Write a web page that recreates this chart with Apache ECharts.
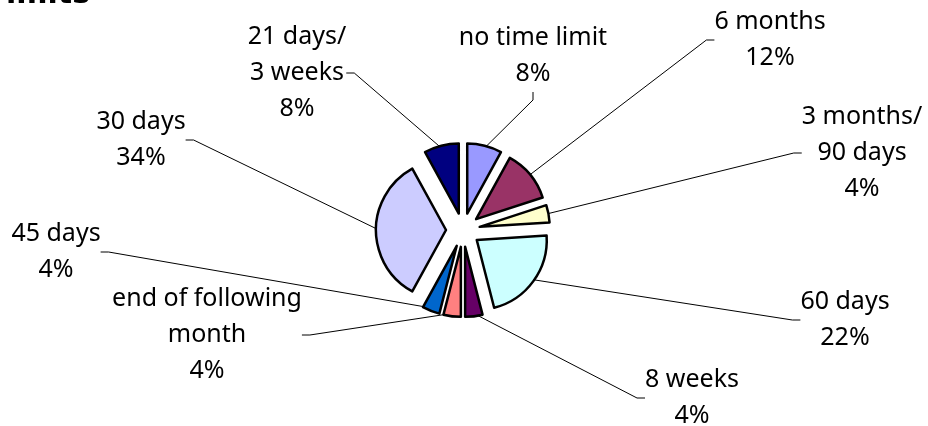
<!DOCTYPE html>
<html>
<head>
<meta charset="utf-8">
<script src="https://cdn.jsdelivr.net/npm/echarts@6/dist/echarts.min.js"></script>
<style>
html,body{margin:0;padding:0;background:#fff;}
#main{width:928px;height:426px;}
</style>
</head>
<body>
<div id="main"></div>
<script>
// ---- data ----
var categories = ["no time limit", "6 months", "3 months/\n90 days", "60 days", "8 weeks",
  "end of following\nmonth", "45 days", "30 days", "21 days/\n3 weeks"];
var counts = [4, 6, 2, 11, 2, 2, 2, 17, 4];
var colors = ["#9999FF", "#993366", "#FFFFCC", "#CCFFFF", "#660066",
  "#FF8080", "#0066CC", "#CCCCFF", "#000080"];
var titleText = "imits";

// ---- layout (label anchor centres) ----
var labelPos = [
  [533, 56], [770, 40], [862, 153], [845, 320], [692, 398],
  [207, 335], [56, 252], [141, 140], [297, 73]
];

var chart = echarts.init(document.getElementById('main'), null, {renderer: 'canvas'});
var slices = categories.map(function (c, i) {
  return {name: c, value: counts[i], selected: true, itemStyle: {color: colors[i]}};
});
var ghost = categories.map(function (c, i) {
  return {name: c, value: counts[i]};
});
chart.setOption({
  animation: false,
  backgroundColor: '#ffffff',
  graphic: [{
    type: 'text', x: 6, y: 10, silent: true,
    style: {text: titleText, font: 'bold 30px "DejaVu Sans"', fill: '#000', verticalAlign: 'bottom'}
  }],
  series: [{
    type: 'pie',
    center: [463, 230],
    radius: 70,
    startAngle: 90,
    clockwise: true,
    selectedMode: 'multiple',
    selectedOffset: 17,
    emphasis: {disabled: true},
    itemStyle: {borderColor: '#000', borderWidth: 2.5},
    label: {show: false},
    labelLine: {show: false},
    data: slices,
    z: 2
  }, {
    type: 'pie',
    center: [463, 230],
    radius: 84,
    startAngle: 90,
    clockwise: true,
    silent: true,
    emphasis: {disabled: true},
    itemStyle: {color: 'rgba(0,0,0,0)', borderWidth: 0},
    avoidLabelOverlap: false,
    label: {
      show: true,
      color: '#000',
      fontFamily: '"Noto Sans"',
      fontSize: 25,
      lineHeight: 36,
      align: 'center',
      formatter: function (p) { return p.name + '\n' + Math.round(p.percent) + '%'; }
    },
    labelLine: {show: true, length: 10, length2: 8, lineStyle: {color: '#000', width: 1}},
    labelLayout: function (p) {
      var pos = labelPos[p.dataIndex];
      return {x: pos[0], y: pos[1], align: 'center', verticalAlign: 'middle'};
    },
    data: ghost,
    z: 1
  }]
});
</script>
</body>
</html>
